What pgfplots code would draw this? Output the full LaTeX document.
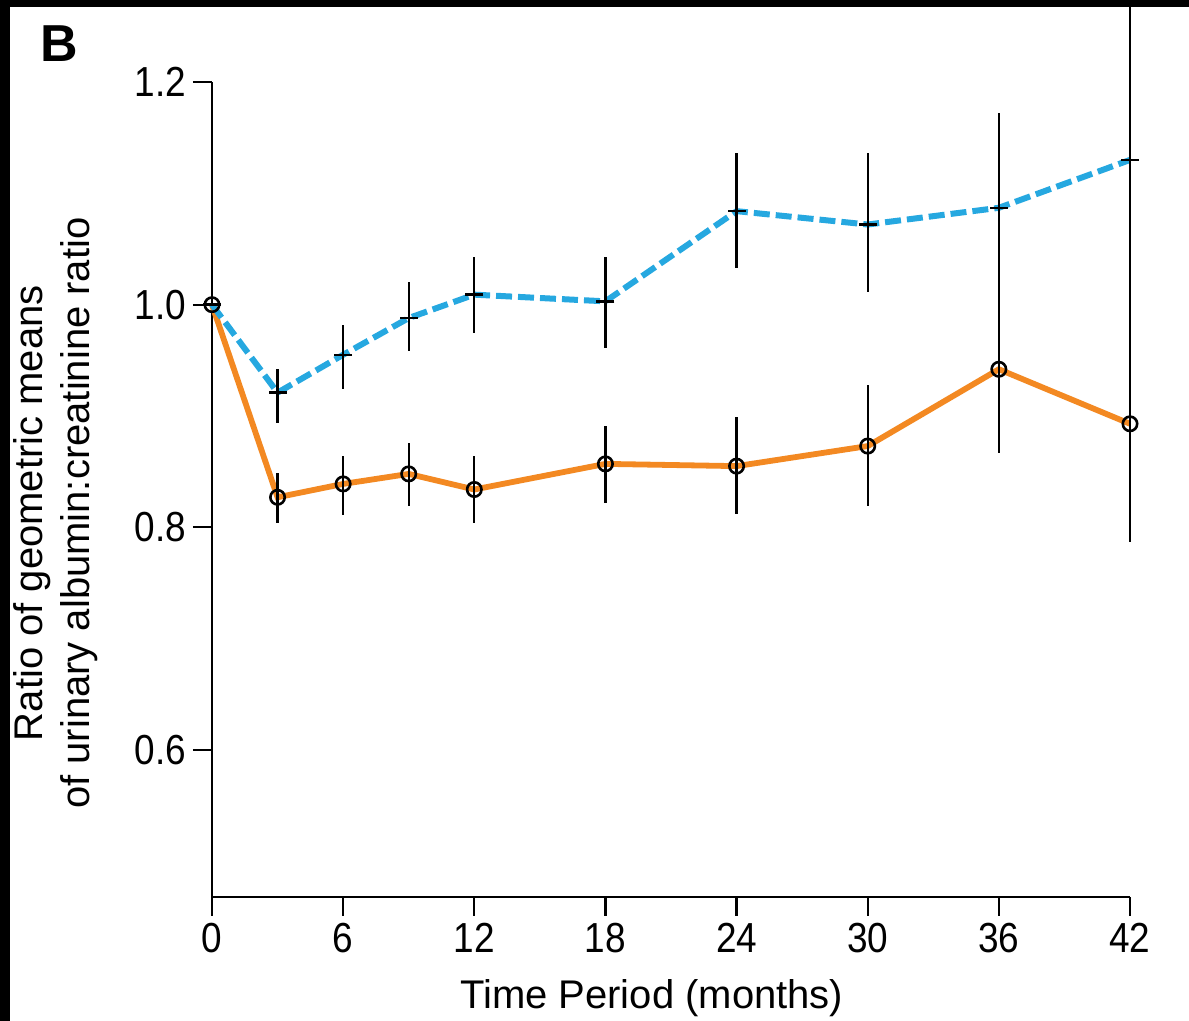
\documentclass[border=0pt]{standalone}
\usepackage{fontspec}
\setmainfont{Liberation Sans}
\newfontfamily\tickfont[FakeStretch=0.88]{Liberation Sans}
\usepackage{pgfplots}
\pgfplotsset{compat=1.18}
\usepackage{pgfplotstable}
\definecolor{orangeL}{RGB}{243,137,34}
\definecolor{blueL}{RGB}{38,168,224}

\pgfplotstableread{
x y ep em
0 1.000 0 0
3 0.827 0.022 0.023
6 0.839 0.025 0.028
9 0.848 0.028 0.029
12 0.834 0.030 0.030
18 0.857 0.034 0.035
24 0.855 0.044 0.043
30 0.873 0.055 0.054
36 0.942 0.080 0.075
42 0.893 0.110 0.106
}\orangedata

\pgfplotstableread{
x y ep em
0 1.000 0 0
3 0.921 0.021 0.027
6 0.955 0.027 0.031
9 0.988 0.032 0.030
12 1.009 0.034 0.034
18 1.003 0.040 0.042
24 1.084 0.052 0.051
30 1.072 0.064 0.061
36 1.087 0.085 0.082
42 1.130 0.170 0.150
}\bluedata

\begin{document}
\begin{tikzpicture}
\begin{axis}[
  name=ax, at={(0,0)}, anchor=south west,
  scale only axis, width=459pt, height=407.5pt,
  xmin=0, xmax=42, ymin=0.468, ymax=1.2,
  axis x line=bottom, axis y line=left,
  axis line style={-, line width=1.1pt, black},
  xtick={0,6,...,42}, ytick={0.6,0.8,1.0,1.2},
  minor tick num=0,
  tick align=outside, major tick length=9.5pt,
  every tick/.style={black, line width=1.1pt},
  tick label style={font=\tickfont\fontsize{21}{24}\selectfont},
  /pgf/number format/assume math mode=true,
  y tick label style={/pgf/number format/.cd, fixed, fixed zerofill, precision=1},
  xlabel={Time Period (months)},
  ylabel={Ratio of geometric means\\of urinary albumin:creatinine ratio},
  xlabel style={at={(rel axis cs:0.479,-0.124)}, anchor=center, font=\fontsize{20}{24}\selectfont},
  ylabel style={at={(rel axis cs:-0.170,0.471)}, anchor=center, align=center, font=\fontsize{20}{23.5}\selectfont},
  clip=false,
]
\addplot[orangeL, line width=2.9pt, mark=o, mark size=3.6pt,
  mark options={black, line width=1.3pt, solid},
  error bars/.cd, y dir=both, y explicit, error mark=none,
  error bar style={black, line width=1.1pt, solid}]
  table[x=x, y=y, y error plus=ep, y error minus=em]{\orangedata};
\addplot[blueL, line width=3pt, dash pattern=on 8pt off 3pt, mark=-, mark size=4.5pt,
  mark options={black, line width=1.2pt, solid},
  error bars/.cd, y dir=both, y explicit, error mark=none,
  error bar style={black, line width=1.1pt, solid}]
  table[x=x, y=y, y error plus=ep, y error minus=em]{\bluedata};
\end{axis}
\pgfresetboundingbox
\path[use as bounding box] ([shift={(-106pt,-62pt)}]ax.south west) rectangle ([shift={(488.5pt,448.5pt)}]ax.south west);
\fill[black] ([shift={(-106pt,445pt)}]ax.south west) rectangle ([shift={(488.5pt,448.5pt)}]ax.south west);
\fill[black] ([shift={(-106pt,-62pt)}]ax.south west) rectangle ([shift={(-101pt,448.5pt)}]ax.south west);
\node[anchor=north west, inner sep=0pt, font=\fontsize{26}{30}\selectfont\bfseries] at ([shift={(-86pt,436pt)}]ax.south west) {B};
\end{tikzpicture}
\end{document}
